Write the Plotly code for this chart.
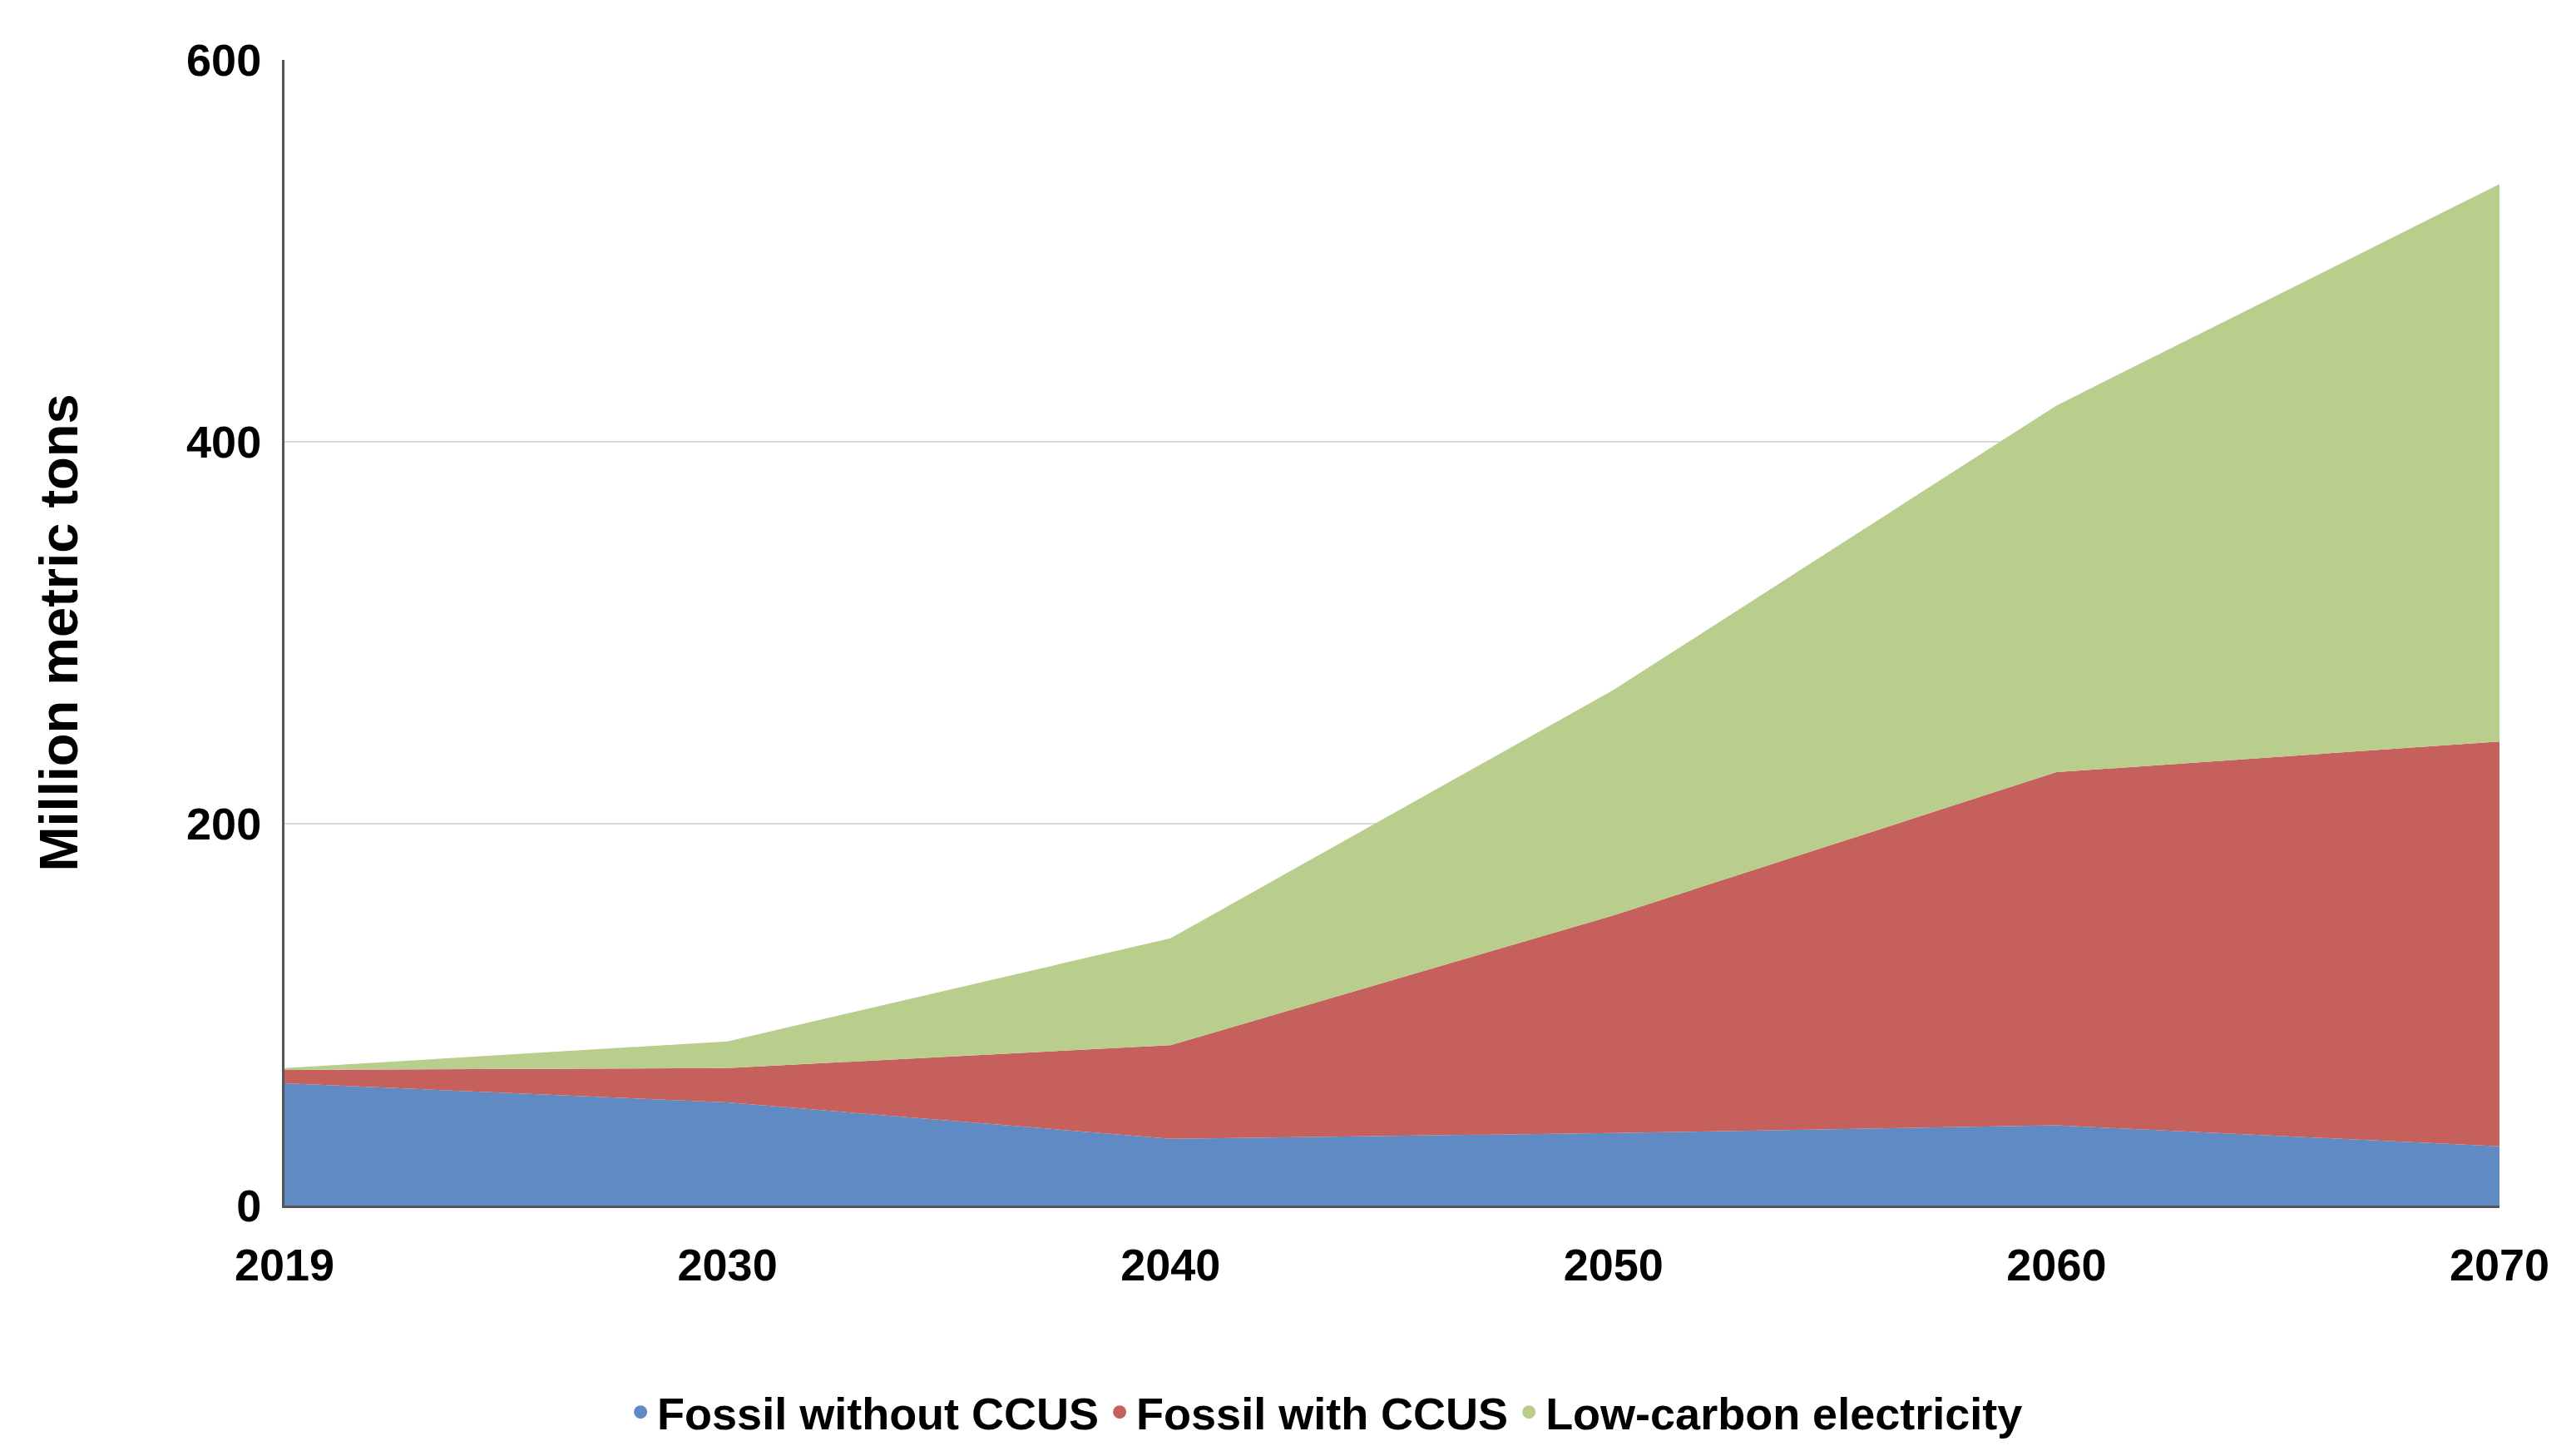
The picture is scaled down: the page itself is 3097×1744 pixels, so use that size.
import plotly.graph_objects as go

years = ["2019", "2030", "2040", "2050", "2060", "2070"]
fossil_no_ccus = [64, 54, 35, 38, 42, 31]
fossil_ccus = [7, 18, 49, 114, 185, 212]
low_carbon = [1, 14, 56, 118, 192, 292]

series = [
    ("Fossil without CCUS", fossil_no_ccus, "#5f8ac4"),
    ("Fossil with CCUS", fossil_ccus, "#c5605d"),
    ("Low-carbon electricity", low_carbon, "#b9cd8c"),
]

xs = list(range(len(years)))
fig = go.Figure()
for name, vals, col in series:
    fig.add_trace(go.Scatter(
        x=xs, y=vals, name=name, stackgroup="one", mode="lines",
        line=dict(width=0, color=col), fillcolor=col, showlegend=False,
    ))
# dot markers for the legend
for name, vals, col in series:
    fig.add_trace(go.Scatter(
        x=[None], y=[None], name="<b>%s</b>" % name, mode="markers",
        marker=dict(size=22, color=col),
    ))

fig.update_layout(
    width=3097, height=1744,
    paper_bgcolor="white", plot_bgcolor="white",
    font=dict(family="Liberation Sans, Arial", size=54, color="black"),
    margin=dict(l=334, r=100, t=64, b=278),
    showlegend=True,
    legend=dict(orientation="h", x=0.47, xanchor="center", y=-0.15, yanchor="top",
                font=dict(size=54, color="black"), traceorder="normal",
                itemwidth=30, tracegroupgap=60),
    xaxis=dict(range=[0, 5], tickvals=xs, ticktext=["<b>%s</b>" % y for y in years],
               showgrid=False, showline=True, linecolor="#555555", linewidth=3,
               ticks="", zeroline=False, ticklabelstandoff=22),
    yaxis=dict(range=[0, 600], tickvals=[0, 200, 400, 600],
               ticktext=["<b>0</b>", "<b>200</b>", "<b>400</b>", "<b>600</b>"],
               showgrid=True, gridcolor="#d9d9d9", gridwidth=2,
               showline=True, linecolor="#555555", linewidth=3, zeroline=False,
               ticklabelstandoff=14,
               title=dict(text="<b>Million metric tons</b>", standoff=110)),
)
fig.write_html("out.html")
